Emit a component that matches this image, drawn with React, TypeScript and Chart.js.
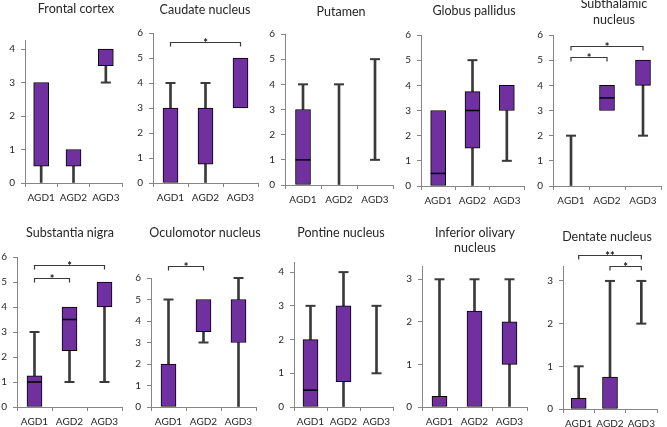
import React, { useEffect, useRef } from "react";
import { Chart, registerables } from "chart.js";

Chart.register(...registerables);

// ---------- data ----------
const groups = ["AGD1", "AGD2", "AGD3"];

const regionTitles: string[][] = [
  ["Frontal cortex"],
  ["Caudate nucleus"],
  ["Putamen"],
  ["Globus pallidus"],
  ["Subthalamic", "nucleus"],
  ["Substantia nigra"],
  ["Oculomotor nucleus"],
  ["Pontine nucleus"],
  ["Inferior olivary", "nucleus"],
  ["Dentate nucleus"],
];

// five-number summaries per region (AGD1, AGD2, AGD3)
const whiskerMin = [
  [0, 0, 3], [0, 0, 3], [0, 0, 1], [0, 0, 1], [0, 3, 2],
  [0, 1, 1], [0, 3, 0], [0, 0, 1], [0, 0, 0], [0, 0, 2],
];
const boxLow: (number | null)[][] = [
  [0.5, 0.5, 3.5], [0, 0.75, 3], [0, null, null], [0, 1.5, 3], [null, 3, 4],
  [0, 2.25, 4], [0, 3.5, 3], [0, 0.75, null], [0, 0, 1], [0, 0, null],
];
const medians: (number | null)[][] = [
  [null, null, null], [null, null, null], [1, null, null], [0.5, 3, null], [null, 3.5, null],
  [1, 3.5, null], [null, null, null], [0.5, null, null], [null, null, null], [null, null, null],
];
const boxHigh: (number | null)[][] = [
  [3, 1, 4], [3, 3, 5], [3, null, null], [3, 3.75, 4], [null, 4, 5],
  [1.25, 4, 5], [2, 5, 5], [2, 3, null], [0.25, 2.25, 2], [0.25, 0.75, null],
];
const whiskerMax = [
  [3, 1, 4], [4, 4, 5], [4, 4, 5], [3, 5, 4], [2, 4, 5],
  [3, 4, 5], [5, 5, 6], [3, 4, 3], [3, 3, 3], [1, 3, 3],
];
const axisMax = [4.27, 6, 6, 6, 6, 6, 6, 4.3, 3.3, 3.35];

// significance brackets: [fromGroup, toGroup], level, mark
const bracketPairs: number[][][] = [
  [], [[0, 2]], [], [], [[0, 1], [0, 2]],
  [[0, 1], [0, 2]], [[0, 1]], [], [], [[0, 2], [1, 2]],
];
const bracketLevels: number[][] = [
  [], [5.64], [], [], [5.12, 5.56],
  [5.17, 5.68], [6.56], [], [], [3.6, 3.35],
];
const bracketMarks: string[][] = [
  [], ["*"], [], [], ["*", "*"],
  ["*", "*"], ["*"], [], [], ["**", "*"],
];

// ---------- layout / style ----------
const W = 667;
const H = 427;
const OX = 20; // canvas overhang so every padding stays positive
const OY = 20;
const CW = W + 2 * OX;
const CH = H + 2 * OY;
const YW = 24;
const XH = 24;
// L, R: plot left/right; T: pixel of axis max; B: pixel of zero; tx, ty: title centre; lh: title line height
const frames = [
  { L: 25, R: 122, T: 40, B: 183, tx: 76, ty: 9, lh: 15 },
  { L: 153, R: 258, T: 33, B: 183, tx: 205, ty: 10, lh: 15 },
  { L: 285, R: 393, T: 34, B: 185, tx: 341, ty: 12, lh: 15 },
  { L: 421, R: 524, T: 35, B: 186, tx: 474, ty: 11, lh: 15 },
  { L: 553, R: 661, T: 35, B: 186, tx: 614, ty: 4, lh: 16 },
  { L: 17, R: 122, T: 257, B: 407, tx: 70, ty: 233, lh: 15 },
  { L: 151, R: 256, T: 278, B: 407, tx: 205, ty: 233, lh: 15 },
  { L: 294, R: 393, T: 262, B: 407, tx: 341, ty: 233, lh: 15 },
  { L: 422, R: 527, T: 266.5, B: 407, tx: 475, ty: 233, lh: 15 },
  { L: 563, R: 657, T: 266, B: 409, tx: 607, ty: 237, lh: 15 },
];

const PURPLE = "#7030A0";
const WHISKER = "#3a3a3a";
const AXIS = "#868686";
const TEXT = "#262626";
const FONT = "Lato, 'Open Sans', sans-serif";

function makeConfig(i: number): any {
  const f = frames[i];
  const lows = whiskerMin[i];
  const q1 = boxLow[i];
  const med = medians[i];
  const q3 = boxHigh[i];
  const highs = whiskerMax[i];

  const boxes = groups.map((_, k) => (q1[k] == null ? null : [q1[k], q3[k]]));
  const lowerW = groups.map((_, k) => {
    const top = q1[k] ?? highs[k];
    return lows[k] < top ? [lows[k], top] : null;
  });
  const upperW = groups.map((_, k) =>
    q3[k] != null && highs[k] > (q3[k] as number) ? [q3[k], highs[k]] : null
  );
  const topCaps = groups.map((_, k) =>
    q3[k] == null || highs[k] > (q3[k] as number) ? highs[k] : null
  );
  const bottomCaps = groups.map((_, k) =>
    lows[k] > 0 && lows[k] < (q1[k] ?? highs[k]) ? lows[k] : null
  );

  const titlePlugin = {
    id: "panelTitle" + i,
    afterDraw(chart: any) {
      const ctx = chart.ctx;
      ctx.save();
      ctx.font = `12.5px ${FONT}`;
      ctx.fillStyle = TEXT;
      ctx.textAlign = "center";
      ctx.textBaseline = "middle";
      regionTitles[i].forEach((t, j) =>
        ctx.fillText(t, f.tx + OX, f.ty + OY + j * f.lh)
      );
      ctx.restore();
    },
  };

  const bracketPlugin = {
    id: "brackets" + i,
    afterDraw(chart: any) {
      const ctx = chart.ctx;
      const xs = chart.scales.x;
      const ys = chart.scales.y;
      ctx.save();
      bracketPairs[i].forEach((pair, j) => {
        const x1 = xs.getPixelForValue(pair[0]);
        const x2 = xs.getPixelForValue(pair[1]);
        const y = Math.round(ys.getPixelForValue(bracketLevels[i][j])) + 0.5;
        ctx.strokeStyle = WHISKER;
        ctx.lineWidth = 1.2;
        ctx.beginPath();
        ctx.moveTo(x1, y + 4);
        ctx.lineTo(x1, y);
        ctx.lineTo(x2, y);
        ctx.lineTo(x2, y + 4);
        ctx.stroke();
        ctx.fillStyle = "#111";
        ctx.font = `bold 11px ${FONT}`;
        ctx.textAlign = "center";
        ctx.textBaseline = "alphabetic";
        ctx.fillText(bracketMarks[i][j], (x1 + x2) / 2, y + 4);
      });
      ctx.restore();
    },
  };

  const tickFont = { family: FONT, size: 10 };

  return {
    type: "bar",
    data: {
      labels: groups,
      datasets: [
        {
          type: "bar",
          data: lowerW,
          backgroundColor: WHISKER,
          borderWidth: 0,
          barThickness: 2,
          grouped: false,
          order: 3,
        },
        {
          type: "bar",
          data: upperW,
          backgroundColor: WHISKER,
          borderWidth: 0,
          barThickness: 2,
          grouped: false,
          order: 3,
        },
        {
          type: "bar",
          data: boxes,
          backgroundColor: PURPLE,
          borderColor: "#000",
          borderWidth: 1,
          borderSkipped: false,
          barThickness: 15,
          grouped: false,
          order: 2,
        },
        {
          type: "line",
          data: med,
          showLine: false,
          pointStyle: "line",
          pointRadius: 7.5,
          pointBorderWidth: 1.5,
          pointBorderColor: "#000",
          borderColor: "#000",
          clip: false,
          order: 1,
        },
        {
          type: "line",
          data: topCaps,
          showLine: false,
          pointStyle: "line",
          pointRadius: 5,
          pointBorderWidth: 2,
          pointBorderColor: WHISKER,
          borderColor: WHISKER,
          clip: false,
          order: 1,
        },
        {
          type: "line",
          data: bottomCaps,
          showLine: false,
          pointStyle: "line",
          pointRadius: 5,
          pointBorderWidth: 2,
          pointBorderColor: WHISKER,
          borderColor: WHISKER,
          clip: false,
          order: 1,
        },
      ],
    },
    options: {
      responsive: false,
      animation: false,
      devicePixelRatio: 1,
      events: [],
      layout: {
        padding: {
          left: f.L + OX - YW,
          right: W + OX - f.R,
          top: f.T + OY,
          bottom: H + OY - f.B - XH,
        },
      },
      plugins: {
        legend: { display: false },
        tooltip: { enabled: false },
        title: { display: false },
      },
      scales: {
        x: {
          type: "category",
          offset: true,
          grid: {
            display: true,
            drawOnChartArea: false,
            drawTicks: true,
            tickLength: 4,
            offset: true,
            color: AXIS,
          },
          border: { display: true, color: AXIS, width: 1 },
          ticks: {
            font: tickFont,
            color: TEXT,
            padding: 5,
            autoSkip: false,
            maxRotation: 0,
            minRotation: 0,
          },
          afterFit: (s: any) => {
            s.height = XH;
          },
        },
        y: {
          type: "linear",
          min: 0,
          max: axisMax[i],
          grid: {
            display: true,
            drawOnChartArea: false,
            drawTicks: true,
            tickLength: 4,
            color: AXIS,
          },
          border: { display: true, color: AXIS, width: 1 },
          ticks: {
            stepSize: 1,
            includeBounds: false,
            font: tickFont,
            color: TEXT,
            padding: 6,
          },
          afterFit: (s: any) => {
            s.width = YW;
          },
        },
      },
    },
    plugins: [titlePlugin, bracketPlugin],
  };
}

function Panel({ index }: { index: number }) {
  const ref = useRef<HTMLCanvasElement | null>(null);
  useEffect(() => {
    if (!ref.current) return;
    const chart = new Chart(ref.current, makeConfig(index));
    return () => chart.destroy();
  }, [index]);
  return (
    <canvas
      ref={ref}
      width={CW}
      height={CH}
      style={{ position: "absolute", left: -OX, top: -OY, width: CW, height: CH }}
    />
  );
}

export default function App() {
  return (
    <div
      style={{
        position: "absolute",
        left: 0,
        top: 0,
        width: W,
        height: H,
        background: "#fff",
        overflow: "hidden",
      }}
    >
      {regionTitles.map((_, i) => (
        <Panel key={i} index={i} />
      ))}
    </div>
  );
}
